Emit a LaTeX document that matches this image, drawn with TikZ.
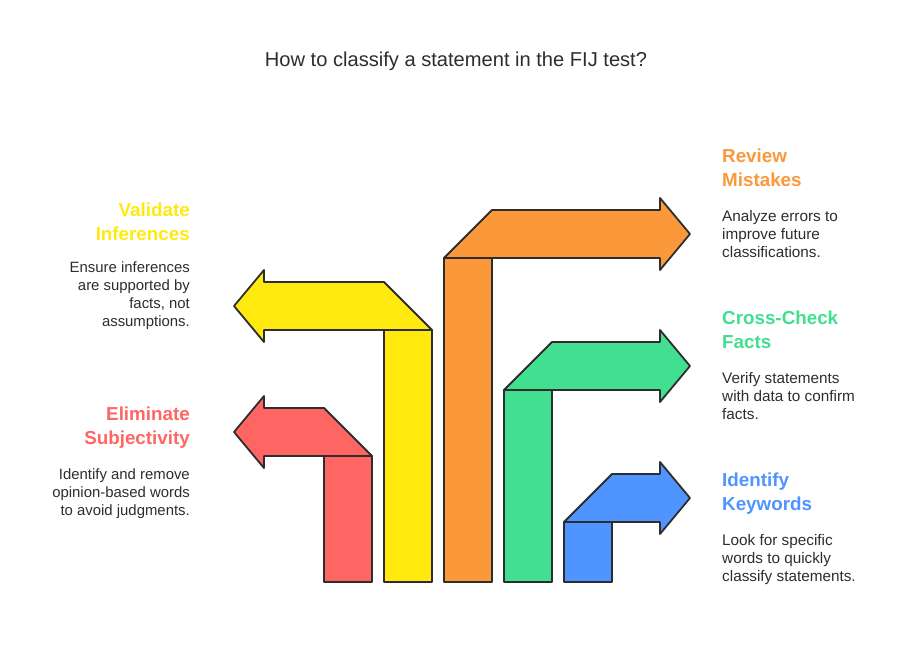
\documentclass[tikz,border=0pt]{standalone}
\usepackage{fontspec}
\setmainfont{Liberation Sans}
\definecolor{ink}{HTML}{2D2D2D}
\definecolor{cred}{HTML}{FF6663}
\definecolor{cyel}{HTML}{FFE90F}
\definecolor{cora}{HTML}{FA983A}
\definecolor{cgrn}{HTML}{42DF90}
\definecolor{cblu}{HTML}{4F94FF}
\tikzset{
  shapeline/.style={draw=ink,line width=1.8pt,line join=round},
  titletext/.style={inner sep=0,text=ink,font=\fontsize{20.1}{24}\selectfont},
  headl/.style={inner sep=0,anchor=north east,align=right,font=\bfseries\fontsize{18.8}{24}\selectfont},
  headr/.style={inner sep=0,anchor=north west,align=left,font=\bfseries\fontsize{18.8}{24}\selectfont},
  bodyl/.style={inner sep=0,anchor=north east,align=right,text=ink,font=\fontsize{14.9}{18}\selectfont},
  bodyr/.style={inner sep=0,anchor=north west,align=left,text=ink,font=\fontsize{15.3}{18}\selectfont},
}
\begin{document}
\begin{tikzpicture}[x=1pt,y=-1pt]
\useasboundingbox (0,0) rectangle (912,654);
% red
\draw[shapeline,fill=cred] (324,456) rectangle (372,582);
\draw[shapeline,fill=cred] (372,456) -- (324,408) -- (264,408) -- (264,396) -- (234,432) -- (264,468) -- (264,456) -- cycle;
% yellow
\draw[shapeline,fill=cyel] (384,330) rectangle (432,582);
\draw[shapeline,fill=cyel] (432,330) -- (384,282) -- (264,282) -- (264,270) -- (234,306) -- (264,342) -- (264,330) -- cycle;
% orange
\draw[shapeline,fill=cora] (444,258) rectangle (492,582);
\draw[shapeline,fill=cora] (444,258) -- (492,210) -- (660,210) -- (660,198) -- (690,234) -- (660,270) -- (660,258) -- cycle;
% green
\draw[shapeline,fill=cgrn] (504,390) rectangle (552,582);
\draw[shapeline,fill=cgrn] (504,390) -- (552,342) -- (660,342) -- (660,330) -- (690,366) -- (660,402) -- (660,390) -- cycle;
% blue
\draw[shapeline,fill=cblu] (564,522) rectangle (612,582);
\draw[shapeline,fill=cblu] (564,522) -- (612,474) -- (660,474) -- (660,462) -- (690,498) -- (660,534) -- (660,522) -- cycle;
% texts
\node[titletext] (title) at (456,61.5) {How to classify a statement in the FIJ test?};
\node[headr,text=cora] (h1) at (722,149) {Review\\Mistakes};
\node[bodyr] (b1) at (722,210) {Analyze errors to\\improve future\\classifications.};
\node[headr,text=cgrn] (h2) at (722,311) {Cross-Check\\Facts};
\node[bodyr] (b2) at (722,372) {Verify statements\\with data to confirm\\facts.};
\node[headr,text=cblu] (h3) at (722,473) {Identify\\Keywords};
\node[bodyr] (b3) at (722,534) {Look for specific\\words to quickly\\classify statements.};
\node[headl,text=cyel] (h4) at (190,203) {Validate\\Inferences};
\node[bodyl] (b4) at (190,261) {Ensure inferences\\are supported by\\facts, not\\assumptions.};
\node[headl,text=cred] (h5) at (190,407) {Eliminate\\Subjectivity};
\node[bodyl] (b5) at (190,468) {Identify and remove\\opinion-based words\\to avoid judgments.};
\end{tikzpicture}
\end{document}
